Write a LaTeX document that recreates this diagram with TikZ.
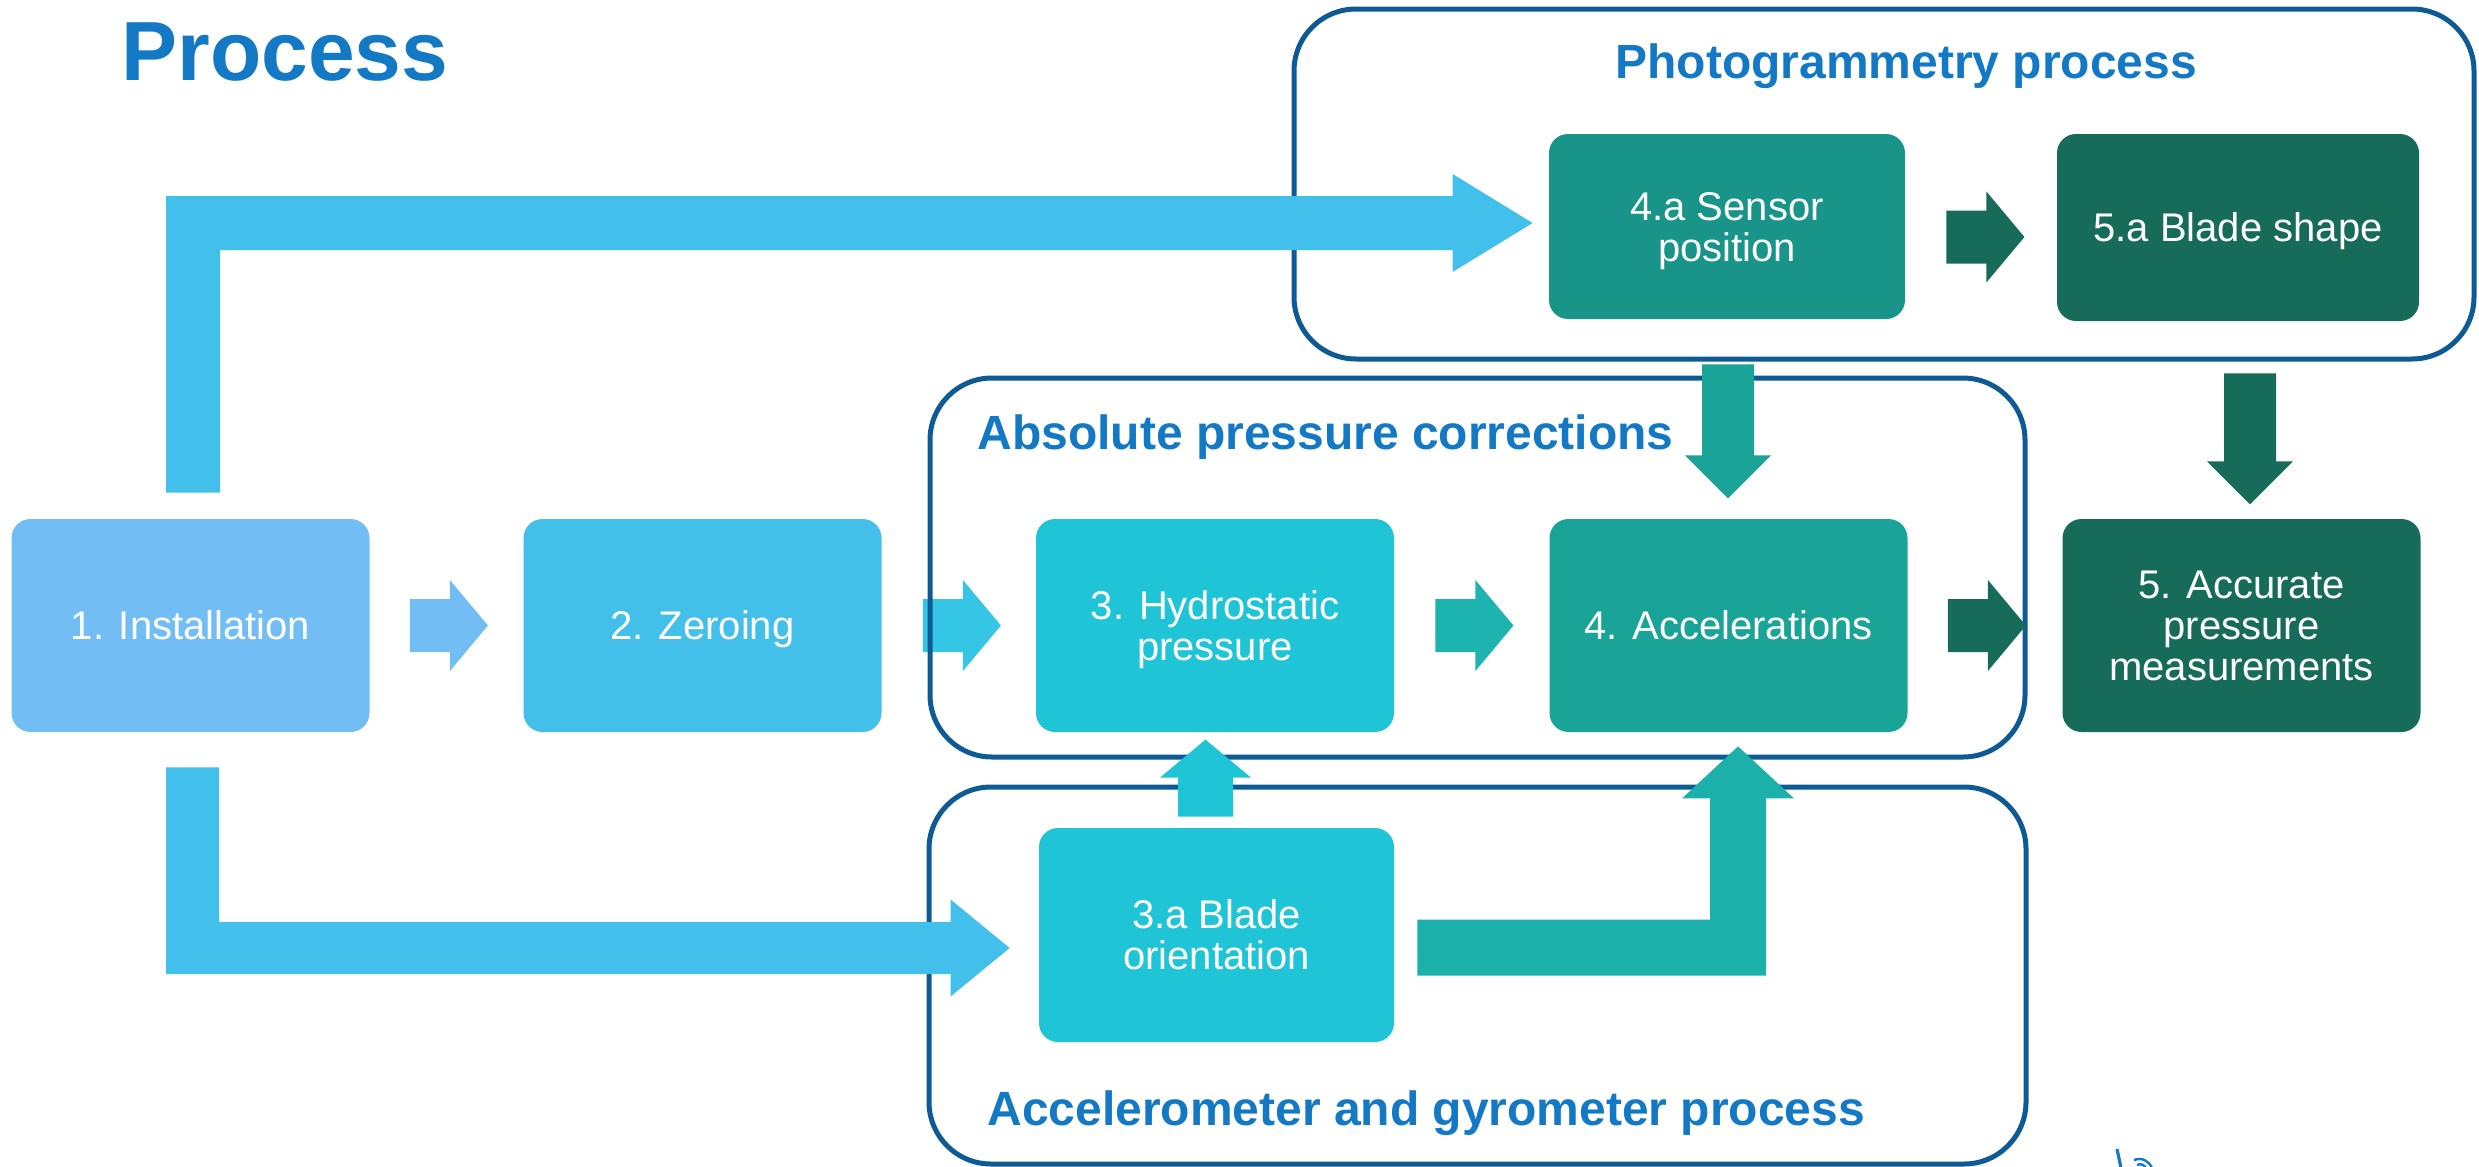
\documentclass[tikz,border=0pt]{standalone}
\usepackage{fontspec}
\setmainfont{Liberation Sans}
\usetikzlibrary{calc}
\definecolor{cInst}{HTML}{72BEF4}
\definecolor{cZero}{HTML}{43C0EA}
\definecolor{cHydro}{HTML}{1FC5D6}
\definecolor{cAcc}{HTML}{1AA397}
\definecolor{cSensor}{HTML}{189588}
\definecolor{cDark}{HTML}{166B59}
\definecolor{cLink}{HTML}{42C0EB}
\definecolor{cZH}{HTML}{35C5E5}
\definecolor{cHA}{HTML}{1DB4B0}
\definecolor{cOA}{HTML}{1BB0AA}
\definecolor{cFrame}{HTML}{0E5A95}
\definecolor{cTitle}{HTML}{1479C5}
\newcommand\boxstrut{\rule[-4.7pt]{0pt}{23.7pt}}
% horizontal block arrow: start point (left, shaft centre), colour
\newcommand\harr[2]{\fill[#2] (#1) ++(0,-26.5) -- ++(40,0) -- ++(0,-19) -- ++(38,45.5) -- ++(-38,45.5) -- ++(0,-19) -- ++(-40,0) -- cycle;}
% downward block arrow: start point (top, shaft centre), shaft length, colour
\newcommand\darr[3]{\fill[#3] (#1) ++(-26,0) -- ++(0,#2) -- ++(-17,0) -- ++(43,43) -- ++(43,-43) -- ++(-17,0) -- ++(0,-#2) -- cycle;}
\begin{document}
\begin{tikzpicture}[x=0.5pt,y=-0.5pt,
  box/.style={rounded corners=9.5pt, inner sep=0pt, text=white, align=center,
    font=\fontsize{20}{20.5}\selectfont, minimum width=179pt, minimum height=106.5pt,
    execute at end node=\boxstrut},
  frame/.style={draw=cFrame, line width=2.5pt, rounded corners=31pt, inner sep=0pt},
  ftitle/.style={anchor=base west, inner sep=0pt, text=cTitle,
    font=\fontsize{24}{28}\selectfont\bfseries}]
\useasboundingbox (0,0) rectangle (2479,1167);

% title
\node[anchor=base west, inner sep=0pt, text=cTitle,
  font=\fontsize{42}{48}\selectfont\bfseries] (title) at (121,80) {Process};

% boxes
\node[box, fill=cInst] (inst) at (190.5,625.5) {\boxstrut 1. Installation};
\node[box, fill=cZero] (zero) at (702.5,625.5) {\boxstrut 2. Zeroing};
\node[box, fill=cHydro] (hydro) at (1215,625.5) {\boxstrut 3. Hydrostatic\\pressure};
\node[box, fill=cAcc] (acc) at (1728.5,625.5) {\boxstrut 4. Accelerations};
\node[box, fill=cDark] (accur) at (2241.5,625.5) {\boxstrut 5. Accurate\\pressure\\measurements};
\node[box, fill=cSensor, minimum width=178pt, minimum height=92.5pt] (sensor) at (1727,226.5) {\boxstrut 4.a Sensor\\position};
\node[box, fill=cDark, minimum width=181pt, minimum height=93.5pt] (shape) at (2238,227.5) {\boxstrut 5.a Blade shape};
\node[box, fill=cHydro, minimum width=177.5pt, minimum height=107pt] (orient) at (1216.5,935) {\boxstrut 3.a Blade\\orientation};

% arrow under the frame
\coordinate (a2s) at ($(zero.east)+(41,0)$);
\harr{a2s}{cZH}

% frames
\node[frame, minimum width=590pt, minimum height=175pt] (fphoto) at (1884,184) {};
\node[frame, minimum width=547.5pt, minimum height=189.5pt] (fabs) at (1477.5,567.5) {};
\node[frame, minimum width=548.5pt, minimum height=188.5pt] (facc) at (1477.5,975.5) {};
\node[ftitle] (tphoto) at (1615,78) {Photogrammetry process};
\node[ftitle] (tabs) at (977,449) {Absolute pressure corrections};
\node[ftitle] (tacc) at (987,1125) {Accelerometer and gyrometer process};

% short horizontal arrows
\coordinate (a1s) at ($(inst.east)+(40,0)$);
\coordinate (a3s) at ($(hydro.east)+(41,0)$);
\coordinate (a4s) at ($(acc.east)+(40,0)$);
\coordinate (a5s) at ($(sensor.east)+(41,10.5)$);
\harr{a1s}{cInst}
\harr{a3s}{cHA}
\harr{a4s}{cDark}
\harr{a5s}{cDark}

% downward arrows
\coordinate (d1s) at ($(sensor.south)+(1,45)$);
\coordinate (d2s) at ($(shape.south)+(12,52)$);
\darr{d1s}{91}{cAcc}
\darr{d2s}{88}{cDark}

% upward arrow 3.a -> 3
\coordinate (u1s) at ($(orient.north)+(-11,-11)$);
\fill[cHydro] (u1s) ++(-27.5,0) -- ++(0,-39) -- ++(-18,0) -- ++(45.5,-38) -- ++(45.5,38) -- ++(-18,0) -- ++(0,39) -- cycle;

% L arrow 3.a -> 4
\coordinate (L2s) at ($(orient.east)+(23,12.5)$);
\coordinate (L2t) at ($(acc.south)+(9.5,14)$);
\fill[cOA] ($(L2s)+(0,-28)$) -- ($(L2t |- L2s)+(-28,-28)$) -- ($(L2t)+(-28,52)$) -- ($(L2t)+(-56,52)$) -- (L2t)
  -- ($(L2t)+(56,52)$) -- ($(L2t)+(28,52)$) -- ($(L2t |- L2s)+(28,28)$) -- ($(L2s)+(0,28)$) -- cycle;

% L arrow 1 -> 4.a
\coordinate (L1s) at ($(inst.north)+(2.5,-26)$);
\coordinate (L1t) at ($(sensor.west)+(-16,-3.5)$);
\fill[cLink] ($(L1s)+(-27,0)$) -- ($(L1s |- L1t)+(-27,-27)$) -- ($(L1t)+(-80,-27)$) -- ($(L1t)+(-80,-49)$) -- (L1t)
  -- ($(L1t)+(-80,49)$) -- ($(L1t)+(-80,27)$) -- ($(L1s |- L1t)+(27,27)$) -- ($(L1s)+(27,0)$) -- cycle;

% L arrow 1 -> 3.a
\coordinate (L3s) at ($(inst.south)+(2,35)$);
\coordinate (L3t) at ($(orient.west)+(-29,13)$);
\fill[cLink] ($(L3s)+(-26.5,0)$) -- ($(L3s |- L3t)+(-26.5,26)$) -- ($(L3t)+(-59,26)$) -- ($(L3t)+(-59,48.5)$) -- (L3t)
  -- ($(L3t)+(-59,-48.5)$) -- ($(L3t)+(-59,-26)$) -- ($(L3s |- L3t)+(26.5,-26)$) -- ($(L3s)+(26.5,0)$) -- cycle;

% cut-off logo fragment
\draw[cTitle, line width=1.6pt] (2117,1149) -- (2121,1168);
\draw[cTitle, line width=1.2pt] (2134,1160) .. controls (2142,1157) and (2149,1161) .. (2152,1168);
\draw[cTitle, line width=1.2pt] (2137,1165) .. controls (2141,1163) and (2144,1165) .. (2146,1168);
\end{tikzpicture}
\end{document}
